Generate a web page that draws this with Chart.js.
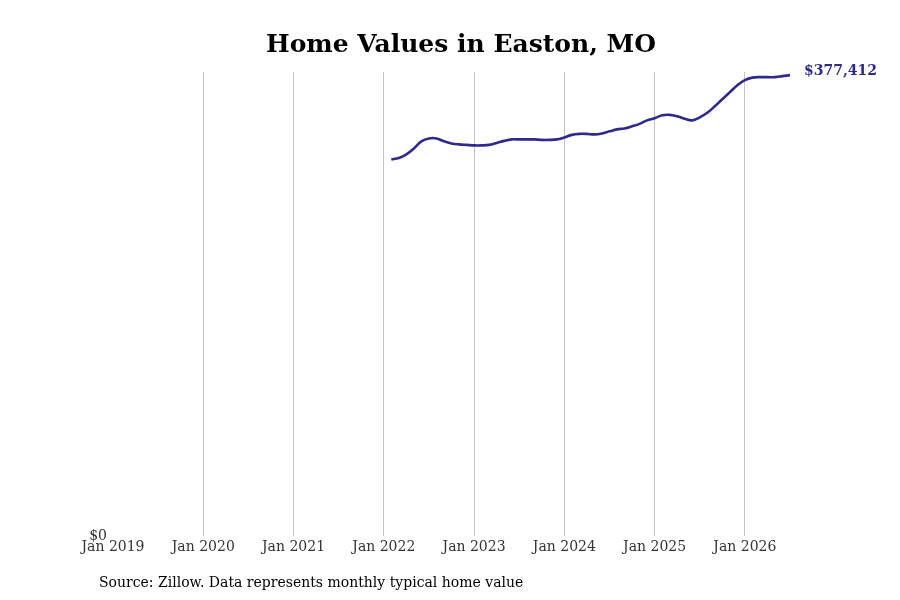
<!DOCTYPE html>
<html>
<head>
<meta charset="utf-8">
<script src="https://cdn.jsdelivr.net/npm/chart.js@4"></script>
<style>
  html, body { margin: 0; padding: 0; background: #fff; }
  #wrap { width: 900px; height: 600px; }
</style>
</head>
<body>
<div id="wrap"><canvas id="myChart" width="900" height="600"></canvas></div>
<script>
// tick labels, one per January
const yearTicks = ['Jan 2019', 'Jan 2020', 'Jan 2021', 'Jan 2022', 'Jan 2023', 'Jan 2024', 'Jan 2025', 'Jan 2026'];
// first month of the series, counted in months from Jan 2019 (Feb 2022)
const firstMonth = 37;
// typical home value, monthly, Feb 2022 .. Jul 2026
const homeValues = [
  308400, 309600, 312500, 317400, 323200, 325600, 325600, 323200, 321500, 320700, 320300,
  319900, 319900, 320300, 321900, 323600, 324800, 324800, 324800, 324800, 324400, 324400, 324800,
  326400, 328500, 329300, 329300, 328900, 329700, 331400, 333000, 333800, 335500, 337500, 340400,
  342100, 344500, 344900, 343700, 341700, 340400, 342900, 346600, 351900, 357700, 363400, 369200,
  373300, 375400, 375800, 375800, 375800, 376600, 377412
];
const title = 'Home Values in Easton, MO';
const source = 'Source: Zillow. Data represents monthly typical home value';

const lineColor = '#2e2a8c';
const serif = '"DejaVu Serif", serif';

const points = homeValues.map((v, i) => ({ x: firstMonth + i, y: v }));

const textPlugin = {
  id: 'texts',
  afterDraw(chart) {
    const ctx = chart.ctx;
    ctx.save();
    ctx.fillStyle = '#000';
    ctx.font = 'bold 25px ' + serif;
    ctx.textAlign = 'center';
    ctx.textBaseline = 'middle';
    ctx.fillText(title, 461, 45);

    ctx.font = '14px ' + serif;
    ctx.textAlign = 'left';
    ctx.fillText(source, 99, 583);

    const meta = chart.getDatasetMeta(0);
    const last = meta.data[meta.data.length - 1];
    ctx.fillStyle = lineColor;
    ctx.font = 'bold 14px ' + serif;
    ctx.fillText('$' + homeValues[homeValues.length - 1].toLocaleString('en-US'), last.x + 14, last.y - 4);
    ctx.restore();
  }
};

new Chart(document.getElementById('myChart'), {
  type: 'line',
  data: {
    datasets: [{
      data: points,
      borderColor: lineColor,
      borderWidth: 2.6,
      pointRadius: 0,
      tension: 0.4,
      fill: false
    }]
  },
  options: {
    responsive: false,
    animation: false,
    layout: { padding: { top: 72, right: 110, left: 0, bottom: 0 } },
    plugins: { legend: { display: false }, tooltip: { enabled: false } },
    scales: {
      x: {
        type: 'linear',
        min: 0,
        max: firstMonth + homeValues.length - 1,
        afterFit: s => { s.height = 64; },
        border: { display: false },
        grid: {
          drawTicks: false,
          color: c => (c.tick && c.tick.value > 0 && c.tick.value % 12 === 0 ? '#c4c4c4' : 'rgba(0,0,0,0)'),
          lineWidth: 1
        },
        ticks: {
          stepSize: 12,
          autoSkip: false,
          maxRotation: 0,
          padding: 3,
          color: '#333',
          font: { family: serif, size: 14 },
          callback: v => (v % 12 === 0 ? yearTicks[v / 12] : '')
        }
      },
      y: {
        min: 0,
        max: 380000,
        afterFit: s => { s.width = 113; },
        border: { display: false },
        grid: { display: false, drawTicks: false },
        ticks: {
          stepSize: 380000,
          padding: 6,
          color: '#333',
          font: { family: serif, size: 14 },
          callback: v => (v === 0 ? '$0' : '')
        }
      }
    }
  },
  plugins: [textPlugin]
});
</script>
</body>
</html>
